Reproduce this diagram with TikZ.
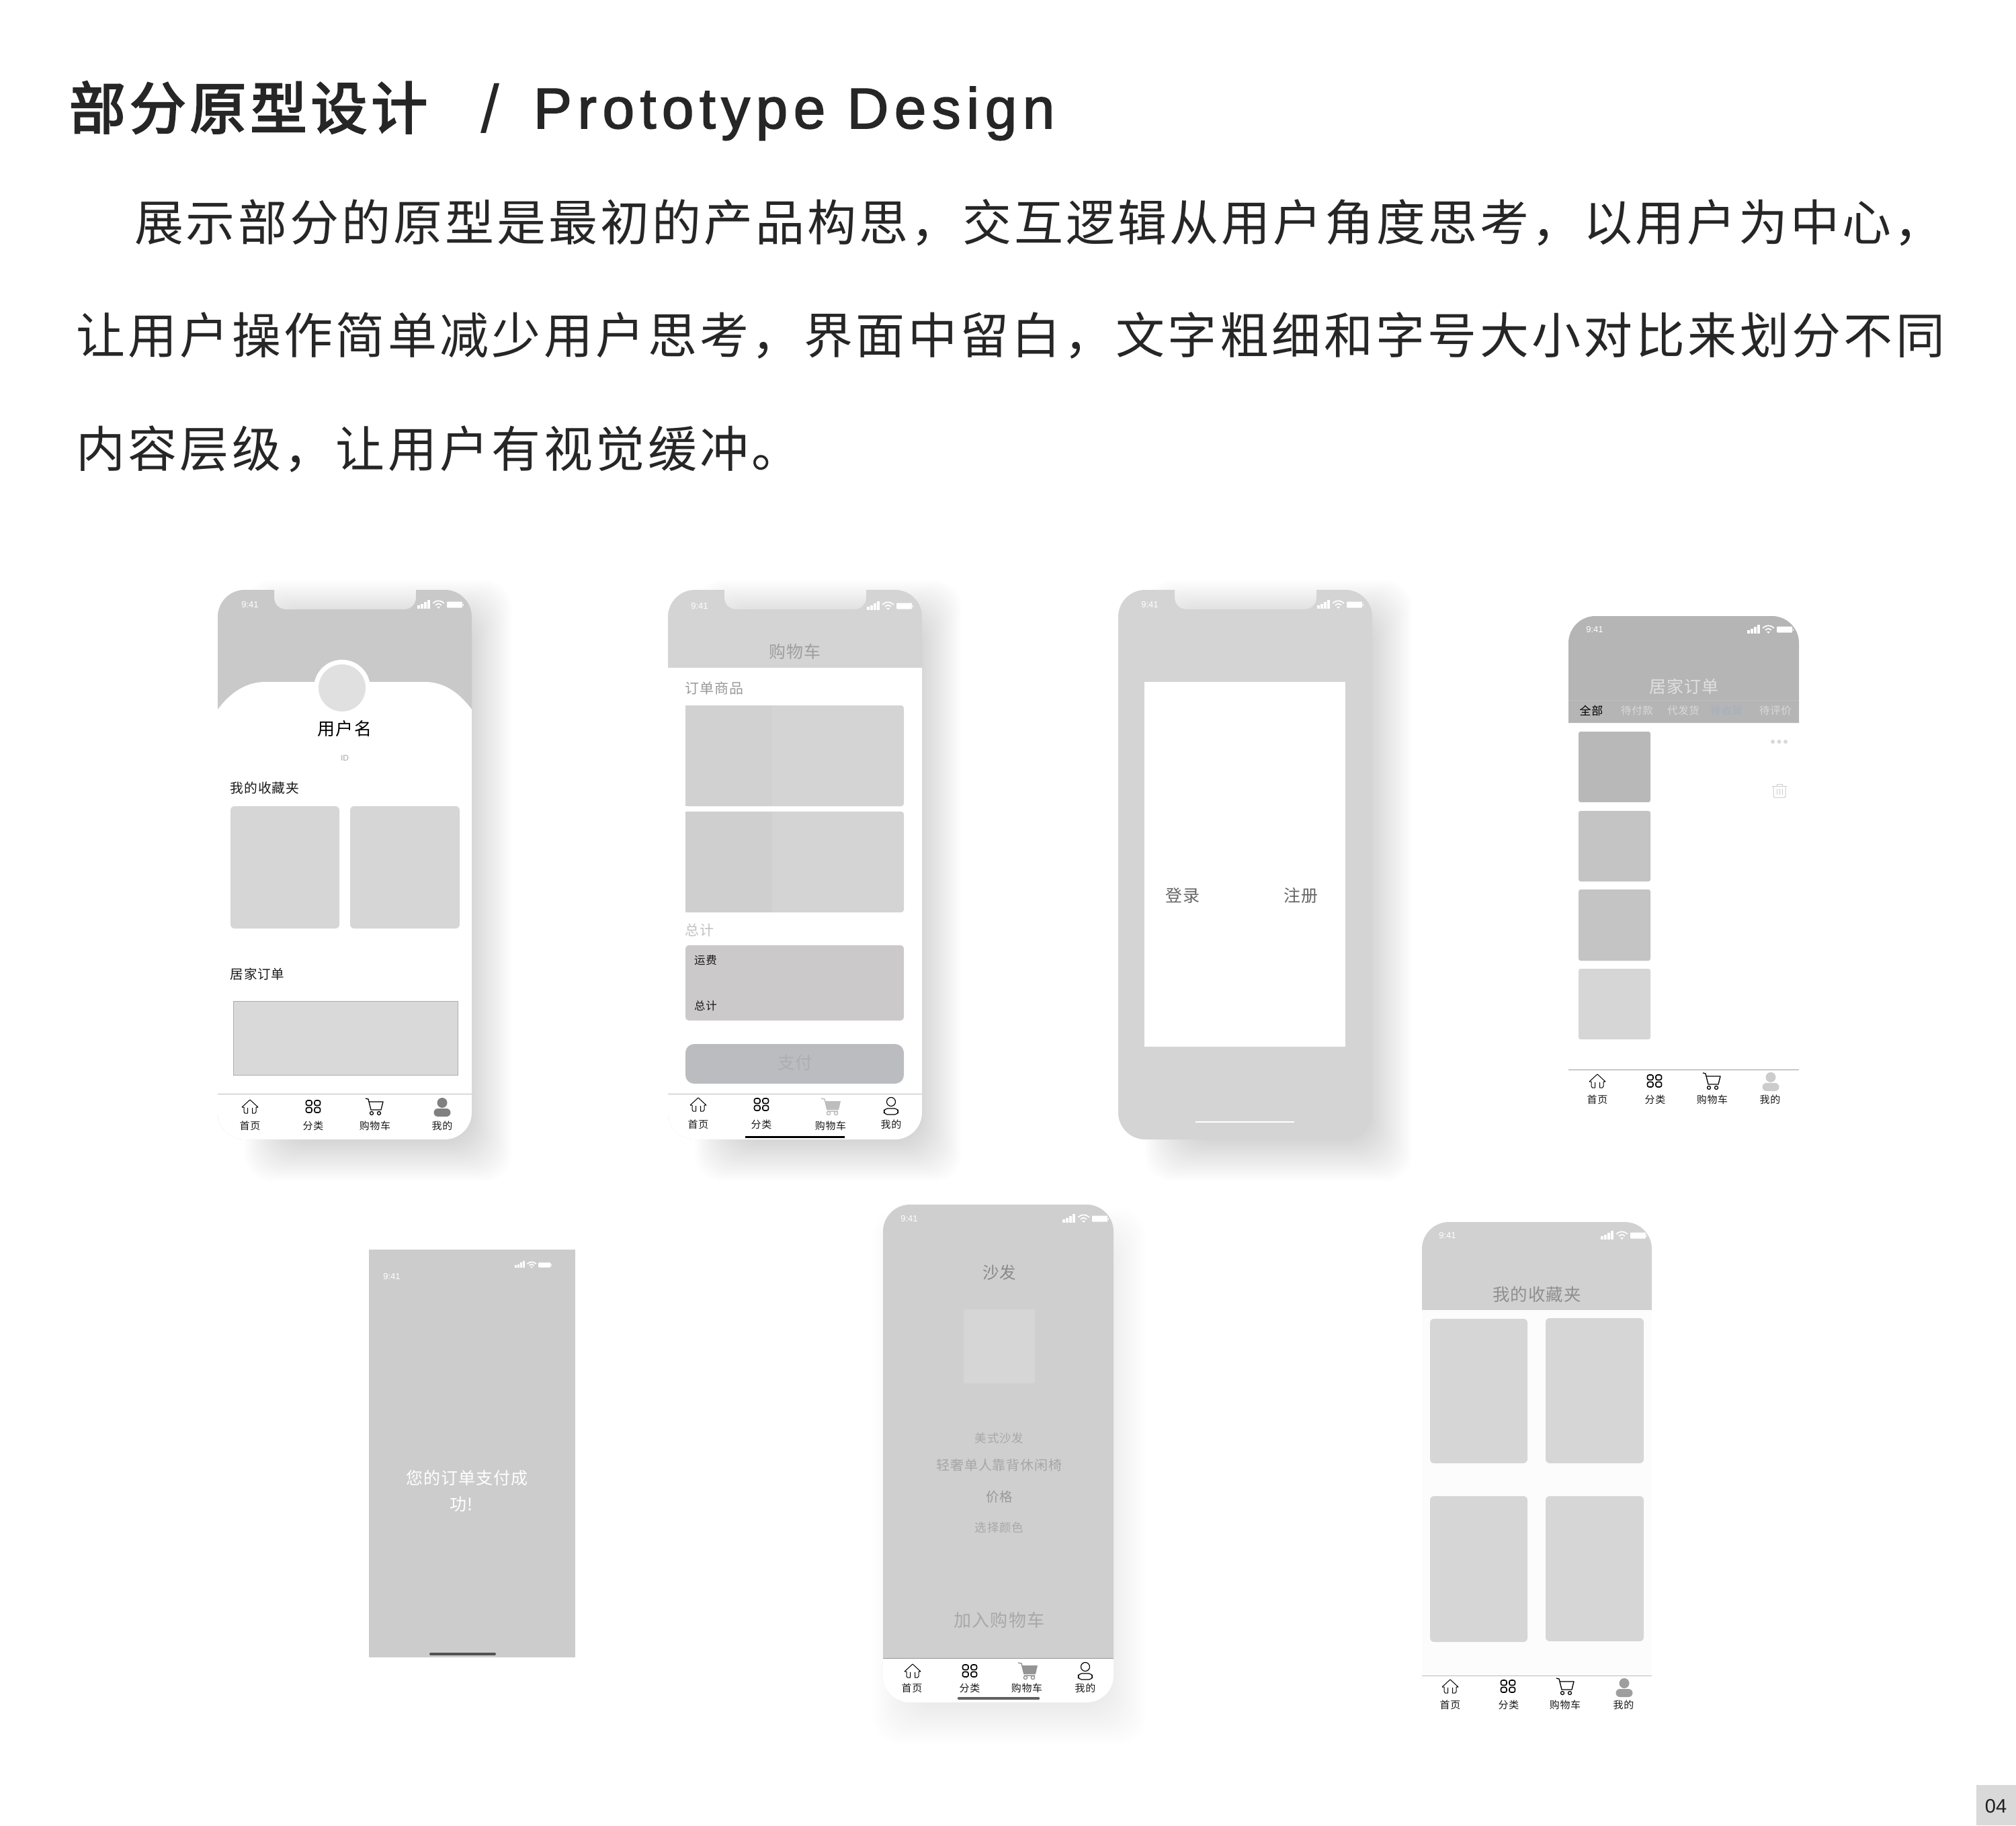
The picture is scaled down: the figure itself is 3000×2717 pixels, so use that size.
\documentclass[tikz,border=0pt]{standalone}
\usepackage{fontspec}
\newfontfamily\cjk[LetterSpace=4]{Noto Sans CJK SC}
\newfontfamily\cjkbody[LetterSpace=6]{Noto Sans CJK SC}
\newfontfamily\cjkfirst[LetterSpace=5.5]{Noto Sans CJK SC}
\newfontfamily\cjktitle[LetterSpace=7,FakeBold=3]{Noto Sans CJK SC}
\newfontfamily\latintitle[LetterSpace=10,FakeBold=2]{Liberation Sans}
\newfontfamily\latin{Liberation Sans}
\definecolor{tabblue}{HTML}{A6AEBE}
\definecolor{paybtn}{HTML}{BBBCC0}
\definecolor{paytxt}{HTML}{AEAEB2}
\definecolor{sumbox}{HTML}{CBC9CA}
\tikzset{
  x=1pt,y=-1pt,
  lab/.style={anchor=base,inner sep=0pt,outer sep=0pt},
  labw/.style={anchor=base west,inner sep=0pt,outer sep=0pt},
  tile/.style={rounded corners=6pt},
  pics/homeicon/.style={code={
    \draw[line width=1pt,line join=round,#1] (-12,1)--(0,-10)--(12,1)--(9,1)--(9,8)--(7.5,10)--(3.5,10)--(3.5,2);
    \draw[line width=1pt,line join=round,#1] (-3.5,2)--(-3.5,10)--(-7.5,10)--(-9,8)--(-9,1)--(-12,1);
  }},
  pics/gridicon/.style={code={
    \foreach \gx in {-10.5,2} \foreach \gy in {-9,1.5}
      \draw[line width=1.6pt,rounded corners=2.6pt,#1] (\gx,\gy) rectangle ++(8.5,7.5);
  }},
  pics/cartline/.style={code={
    \draw[line width=1.3pt,line join=round,#1] (-14,-12)--(-10,-11)--(-6,5)--(9,5)--(12,-7)--(-9,-7);
    \draw[line width=1.3pt,#1] (-5,10) circle (2.5pt) (6,10) circle (2.5pt);
  }},
  pics/cartfill/.style={code={
    \draw[line width=1.5pt,#1] (-15,-12)--(-10,-11)--(-6,5);
    \fill[#1] (-9,-8)--(14,-8)--(11,5)--(-6,5)--cycle;
    \draw[line width=1.5pt,#1] (-6,7)--(10,7) (-4,10) circle (2.6pt) (7,10) circle (2.6pt);
  }},
  pics/personfill/.style={code={
    \fill[#1] (0,-7.5) circle (7.5pt);
    \fill[#1,rounded corners=6pt] (-12.5,1) rectangle (12.5,13);
  }},
  pics/personline/.style={code={
    \draw[line width=1.2pt,#1] (0,-7) circle (6.5pt);
    \draw[line width=1.2pt,#1,rounded corners=5pt] (-10.5,3) rectangle (10.5,12);
  }},
  pics/statusicons/.style={code={
    \foreach \bx/\bh in {0/5,5/7,10/10,15/13}
      \fill[#1] (\bx,5.5) rectangle ++(3.8,-\bh);
    \draw[line width=1.7pt,#1] (23,-2) .. controls (28,-7) and (35,-7) .. (40,-2);
    \draw[line width=1.7pt,#1] (27,1) .. controls (30,-2) and (33,-2) .. (36,1);
    \fill[#1] (29,3)--(34,3)--(31.5,6)--cycle;
    \fill[#1,rounded corners=1pt] (44,-4.5) rectangle (67,4.5);
    \fill[#1] (68,-1.5) rectangle (69.2,1.5);
  }},
  pics/binicon/.style={code={
    \draw[line width=1pt,#1] (-11,-7)--(11,-7) (-4,-7)--(-4,-10)--(4,-10)--(4,-7);
    \draw[line width=1pt,#1,rounded corners=1.5pt] (-9,-6)--(-9,10)--(9,10)--(9,-6);
    \draw[line width=1pt,#1] (-4,-3)--(-4,6) (0,-3)--(0,6) (4,-3)--(4,6);
  }},
}
% blurred block under a phone
\newcommand\softshadow[5]{
  \foreach \s in {-36,-33,...,36}
    \fill[black,opacity=#5,rounded corners=40pt] (#1-\s,#2-\s) rectangle (#3+\s,#4+\s);
}
% label centred on a point: name, x, y, size, colour, text
\newcommand\lab[6]{
  \node[lab,text=#5,yshift={-0.38*#4}] (#1) at (#2,#3) {\fontsize{#4}{#4}\selectfont\cjk #6};
}
\newcommand\clock[4]{
  \node[lab,text=#4,yshift=-4.5] (#1) at (#2,#3) {\fontsize{13}{13}\selectfont\latin 9:41};
}
% top with notch, from x=#1, 378 wide
\newcommand\notchphone[2]{
  \fill[#2] (#1,918) .. controls (#1,896) and (#1+18,878) .. (#1+40,878) -- (#1+84,878) -- (#1+84,889)
    .. controls (#1+84,900) and (#1+92,907) .. (#1+102,907) -- (#1+277,907)
    .. controls (#1+287,907) and (#1+295,900) .. (#1+295,889) -- (#1+295,878) -- (#1+338,878)
    .. controls (#1+360,878) and (#1+378,896) .. (#1+378,918) -- (#1+378,1656)
    .. controls (#1+378,1678) and (#1+360,1696) .. (#1+338,1696) -- (#1+40,1696)
    .. controls (#1+18,1696) and (#1,1678) .. (#1,1656) -- cycle;
}
\newcommand\roundtop[5]{
  \fill[#5] (#1,#4) -- (#1,#2+40) .. controls (#1,#2+18) and (#1+18,#2) .. (#1+40,#2)
    -- (#3-40,#2) .. controls (#3-18,#2) and (#3,#2+18) .. (#3,#2+40) -- (#3,#4) -- cycle;
}
\newcommand\roundbot[5]{
  \fill[#5] (#1,#2) -- (#1,#4-40) .. controls (#1,#4-18) and (#1+18,#4) .. (#1+40,#4)
    -- (#3-40,#4) .. controls (#3-18,#4) and (#3,#4-18) .. (#3,#4-40) -- (#3,#2) -- cycle;
}
\begin{document}
\begin{tikzpicture}
  \useasboundingbox (0,0) rectangle (3000,2717);
  \fill[white] (0,0) rectangle (3000,2717);

  % heading and text
  \node[labw,text=black!85] (heading) at (103,192) {\fontsize{84}{84}\selectfont\cjktitle 部分原型设计};
  \node[labw,text=black!85] (headingslash) at (715,197) {\fontsize{101}{101}\selectfont\latin /};
  \node[labw,text=black!85] (headinglatin) at (794,191) {\fontsize{85.5}{85.5}\selectfont\latintitle Prototype Design};
  \node[labw,text=black!85] (para1) at (200,358) {\fontsize{73}{73}\selectfont\cjkfirst 展示部分的原型是最初的产品构思，交互逻辑从用户角度思考，以用户为中心，};
  \node[labw,text=black!85] (para2) at (113,526) {\fontsize{73}{73}\selectfont\cjkbody 让用户操作简单减少用户思考，界面中留白，文字粗细和字号大小对比来划分不同};
  \node[labw,text=black!85] (para3) at (113,695) {\fontsize{73}{73}\selectfont\cjkbody 内容层级，让用户有视觉缓冲。};

  % profile phone
  \softshadow{400}{900}{725}{1722}{.008}
  \notchphone{324}{black!21}
  \fill[white] (324,1056) .. controls (342,1032) and (365,1015) .. (395,1015) -- (632,1015)
    .. controls (662,1015) and (684,1032) .. (702,1056) -- (702,1656)
    .. controls (702,1678) and (684,1696) .. (662,1696) -- (364,1696)
    .. controls (342,1696) and (324,1678) .. (324,1656) -- cycle;
  \fill[white] (509,1024) circle (42pt);
  \fill[black!12] (509,1024) circle (35pt);
  \clock{a9}{372}{900}{white}
  \pic at (621,900) {statusicons=white};
  \lab{aname}{513}{1085}{26}{black}{用户名}
  \node[lab,text=black!35,yshift=-4] (aid) at (513,1128) {\fontsize{12}{12}\selectfont\latin ID};
  \lab{afav}{394}{1173}{19.8}{black!90}{我的收藏夹}
  \fill[black!16,tile] (343,1200) rectangle (505,1382);
  \fill[black!16,tile] (521,1200) rectangle (684,1382);
  \lab{aorder}{383}{1450}{19.5}{black!90}{居家订单}
  \filldraw[fill=black!15,draw=black!32,line width=1pt] (347,1490) rectangle (681,1600);
  \draw[black!27,line width=1pt] (324,1628.5) -- (702,1628.5);
  \pic at (372,1647) {homeicon=black};
  \pic at (466,1647) {gridicon=black};
  \pic at (558,1647) {cartline=black};
  \pic at (658,1649) {personfill=black!50};
  \lab{ah}{372}{1676}{15}{black!90}{首页}
  \lab{ac}{466}{1676}{15}{black!90}{分类}
  \lab{as}{558}{1676}{15}{black!90}{购物车}
  \lab{am}{658}{1676}{15}{black!90}{我的}

  % cart phone
  \softshadow{1070}{900}{1395}{1722}{.008}
  \notchphone{994}{black!17}
  \roundbot{994}{994}{1372}{1696}{white}
  \clock{b9}{1041}{902}{white}
  \pic at (1290,902) {statusicons=white};
  \lab{btitle}{1183}{970}{25}{black!38}{购物车}
  \lab{bgoods}{1063}{1025}{21}{black!40}{订单商品}
  \fill[black!17,rounded corners=4pt] (1020,1050) rectangle (1345,1200);
  \fill[black!18] (1020,1050) rectangle (1149,1200);
  \fill[black!17,rounded corners=4pt] (1020,1208) rectangle (1345,1358);
  \fill[black!19] (1020,1208) rectangle (1149,1358);
  \lab{bsum}{1041}{1384}{21}{black!24}{总计}
  \fill[sumbox,rounded corners=5pt] (1020,1407) rectangle (1345,1519);
  \lab{bfee}{1050}{1429}{16.5}{black!90}{运费}
  \lab{bsumb}{1050}{1497}{16.5}{black!90}{总计}
  \fill[paybtn,rounded corners=13pt] (1020,1554) rectangle (1345,1613);
  \lab{bpay}{1183}{1582}{25.5}{paytxt}{支付}
  \draw[black!27,line width=1pt] (994,1628.5) -- (1372,1628.5);
  \pic at (1039,1644) {homeicon=black};
  \pic at (1133,1644) {gridicon=black};
  \pic at (1237,1647) {cartfill=black!26};
  \pic at (1326,1647) {personline=black};
  \lab{bh}{1039}{1674}{15}{black!90}{首页}
  \lab{bc}{1133}{1674}{15}{black!90}{分类}
  \lab{bs}{1236}{1676}{15}{black!90}{购物车}
  \lab{bm}{1326}{1674}{15}{black!90}{我的}
  \draw[black,line width=3pt] (1109,1692) -- (1257,1692);

  % login phone
  \softshadow{1740}{900}{2065}{1722}{.008}
  \notchphone{1664}{black!17}
  \fill[white] (1703,1015) rectangle (2002,1558);
  \clock{c9}{1711}{900}{white}
  \pic at (1960,900) {statusicons=white};
  \lab{clogin}{1760}{1333}{25}{black!60}{登录}
  \lab{cregister}{1936}{1333}{25}{black!60}{注册}
  \draw[white,line width=2.5pt] (1779,1670) -- (1926,1670);

  % order list
  \roundtop{2334}{917}{2677}{1076}{black!29}
  \clock{d9}{2373}{937}{white}
  \pic at (2600,937) {statusicons=white};
  \lab{dtitle}{2506}{1022}{25}{black!12}{居家订单}
  \draw[black!26,line width=1pt] (2334,1042) -- (2677,1042);
  \lab{dall}{2368}{1058}{17}{black}{全部}
  \lab{dpay}{2436}{1058}{15.5}{black!15}{待付款}
  \lab{dship}{2505}{1058}{15.5}{black!15}{代发货}
  \lab{drecv}{2569}{1058}{15.5}{tabblue}{待收货}
  \lab{drate}{2642}{1058}{15.5}{black!15}{待评价}
  \fill[black!28,rounded corners=3pt] (2349,1089) rectangle (2456,1194);
  \fill[black!23,rounded corners=3pt] (2349,1207) rectangle (2456,1312);
  \fill[black!23,rounded corners=3pt] (2349,1324) rectangle (2456,1430);
  \fill[black!16,rounded corners=3pt] (2349,1442) rectangle (2456,1547);
  \foreach \dx in {2638,2647.5,2657}
    \fill[black!15] (\dx,1104) circle (3pt);
  \pic at (2648,1177) {binicon=black!20};
  \draw[black!40,line width=1pt] (2334,1592) -- (2677,1592);
  \pic at (2377,1609) {homeicon=black};
  \pic at (2462,1609) {gridicon=black};
  \pic at (2548,1609) {cartline=black};
  \pic at (2635,1611) {personfill=black!20};
  \lab{dh}{2377}{1637}{15}{black!90}{首页}
  \lab{dc}{2463}{1637}{15}{black!90}{分类}
  \lab{ds}{2548}{1637}{15}{black!90}{购物车}
  \lab{dm}{2634}{1637}{15}{black!90}{我的}

  % paid screen
  \fill[black!20] (549,1860) rectangle (856,2467);
  \clock{e9}{583}{1900}{white}
  \pic[scale=.8] at (766,1883) {statusicons=white};
  \lab{epaid}{695}{2200}{25}{white}{您的订单支付成}
  \lab{epaidb}{687}{2239}{25}{white}{功!}
  \draw[black!68,line width=4pt,line cap=round] (641,2462) -- (736,2462);

  % product phone
  \softshadow{1335}{1835}{1670}{2560}{.0055}
  \roundtop{1314}{1793}{1657}{2468}{black!19}
  \roundbot{1314}{2468}{1657}{2534}{white}
  \clock{f9}{1353}{1814}{white}
  \pic at (1581,1814) {statusicons=white};
  \lab{ftitle}{1487}{1894}{24.5}{black!46}{沙发}
  \fill[black!16] (1434,1949) rectangle (1540,2059);
  \lab{fkind}{1487}{2141}{17.5}{black!34}{美式沙发}
  \lab{fname}{1487}{2181}{20}{black!35}{轻奢单人靠背休闲椅}
  \lab{fprice}{1487}{2228}{19.5}{black!40}{价格}
  \lab{fcolour}{1487}{2274}{17.5}{black!34}{选择颜色}
  \lab{fadd}{1487}{2412}{26}{black!34}{加入购物车}
  \draw[black!42,line width=1pt] (1314,2468) -- (1657,2468);
  \pic at (1358,2487) {homeicon=black};
  \pic at (1443,2487) {gridicon=black};
  \pic at (1530,2487) {cartfill=black!42};
  \pic at (1615,2488) {personline=black};
  \lab{fh}{1357}{2513}{15}{black!90}{首页}
  \lab{fc}{1443}{2513}{15}{black!90}{分类}
  \lab{fs}{1528}{2513}{15}{black!90}{购物车}
  \lab{fm}{1615}{2513}{15}{black!90}{我的}
  \draw[black!62,line width=4.5pt,line cap=round] (1427,2528) -- (1545,2528);

  % favourites
  \roundtop{2116}{1819}{2458}{1950}{black!18}
  \fill[black!1] (2116,1950) rectangle (2458,2494);
  \clock{g9}{2154}{1839}{white}
  \pic at (2382,1839) {statusicons=white};
  \lab{gtitle}{2287}{1927}{25.5}{black!44}{我的收藏夹}
  \fill[black!16,tile] (2128,1963) rectangle (2273,2178);
  \fill[black!16,tile] (2300,1962) rectangle (2446,2178);
  \fill[black!16,tile] (2128,2227) rectangle (2273,2444);
  \fill[black!16,tile] (2300,2227) rectangle (2446,2443);
  \draw[black!27,line width=1pt] (2116,2494) -- (2458,2494);
  \pic at (2158,2510) {homeicon=black};
  \pic at (2244,2510) {gridicon=black};
  \pic at (2330,2510) {cartline=black};
  \pic at (2417,2513) {personfill=black!38};
  \lab{gh}{2158}{2538}{15}{black!90}{首页}
  \lab{gc}{2245}{2538}{15}{black!90}{分类}
  \lab{gs}{2329}{2538}{15}{black!90}{购物车}
  \lab{gm}{2416}{2538}{15}{black!90}{我的}

  % page number
  \fill[black!15] (2941,2657) rectangle (3000,2717);
  \node[lab,text=black!88,yshift=-10.5] (pageno) at (2970,2688) {\fontsize{29}{29}\selectfont\latin 04};
\end{tikzpicture}
\end{document}
